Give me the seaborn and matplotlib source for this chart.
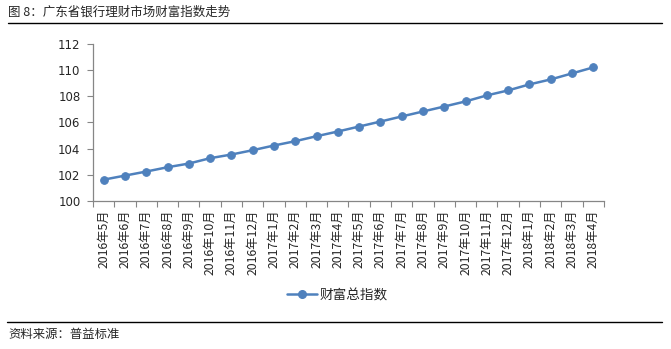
import matplotlib
matplotlib.use("Agg")
import matplotlib.pyplot as plt
import seaborn as sns
import pandas as pd
from matplotlib.lines import Line2D

months = ["2016年5月", "2016年6月", "2016年7月", "2016年8月", "2016年9月", "2016年10月",
          "2016年11月", "2016年12月", "2017年1月", "2017年2月", "2017年3月", "2017年4月",
          "2017年5月", "2017年6月", "2017年7月", "2017年8月", "2017年9月", "2017年10月",
          "2017年11月", "2017年12月", "2018年1月", "2018年2月", "2018年3月", "2018年4月"]
values = [101.63, 101.94, 102.25, 102.58, 102.86, 103.27, 103.55, 103.88, 104.24, 104.57,
          104.95, 105.31, 105.69, 106.07, 106.46, 106.84, 107.22, 107.61, 108.07, 108.45,
          108.91, 109.29, 109.75, 110.21]
series_name = "财富总指数"
yticks = [100, 102, 104, 106, 108, 110, 112]
title = "图 8：广东省银行理财市场财富指数走势"
source = "资料来源：普益标准"

sns.set_theme(style="white")
plt.rcParams['font.family'] = ['Noto Sans CJK SC', 'DejaVu Sans']
plt.rcParams['axes.unicode_minus'] = False

df = pd.DataFrame({"month": months, "value": values, "pos": range(len(months))})

fig = plt.figure(figsize=(6.71, 3.49), dpi=100)
ax = fig.add_axes([0.1386, 0.4241, 0.7614, 0.4499])
color = "#4F81BD"
sns.lineplot(data=df, x="pos", y="value", ax=ax, color=color, linewidth=1.8,
             marker="o", markersize=5.5, markeredgecolor=color, sort=False)

ax.set_xlim(-0.5, len(months) - 0.5)
ax.set_ylim(100, 112)
ax.set_yticks(yticks)
ax.set_yticklabels([str(v) for v in yticks], fontsize=8.5, family=['DejaVu Sans'])
ax.set_xticks(range(len(months)))
ax.set_xticklabels(months, rotation=90, fontsize=8.8)
ax.set_xticks([i - 0.5 for i in range(len(months) + 1)], minor=True)
ax.tick_params(axis='x', which='major', length=0, pad=6)
ax.tick_params(axis='x', which='minor', length=4, color="#868686", width=0.8, direction='out', bottom=True)
ax.tick_params(axis='y', which='major', length=4, color="#868686", width=0.8, direction='out', left=True, pad=5)
ax.set_xlabel("")
ax.set_ylabel("")
for s in ["top", "right"]:
    ax.spines[s].set_visible(False)
for s in ["left", "bottom"]:
    ax.spines[s].set_color("#868686")
    ax.spines[s].set_linewidth(0.9)
if ax.get_legend():
    ax.get_legend().remove()

handle = Line2D([0], [0], color=color, linewidth=1.8, marker="o", markersize=5.5)
fig.legend([handle], [series_name], loc="center", bbox_to_anchor=(0.503, 1 - 295 / 349),
           frameon=False, fontsize=9.8, handlelength=2.2, handletextpad=0.15)

fig.text(8 / 671, 1 - 12 / 349, title, fontsize=9.0, va="center", ha="left")
fig.add_artist(Line2D([8 / 671, 662 / 671], [1 - 23 / 349, 1 - 23 / 349], color="black", linewidth=1.0))
fig.add_artist(Line2D([7 / 671, 662 / 671], [1 - 322 / 349, 1 - 322 / 349], color="black", linewidth=1.0))
fig.text(8 / 671, 1 - 334 / 349, source, fontsize=8.9, va="center", ha="left")

fig.savefig("out.png", dpi=100)
